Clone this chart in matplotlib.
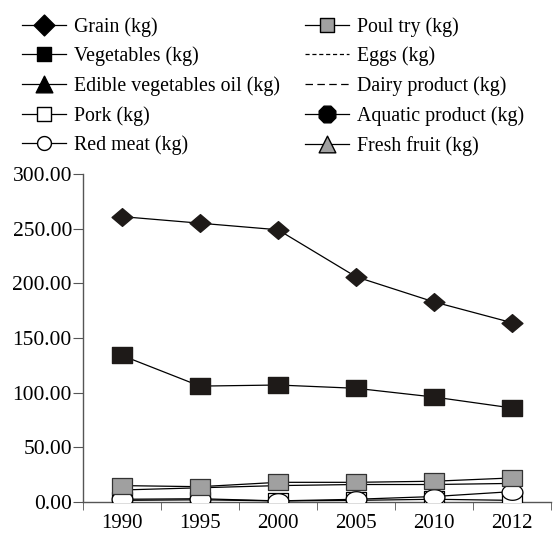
import numpy as np
import matplotlib
matplotlib.use("Agg")
import matplotlib.pyplot as plt
from matplotlib.path import Path
from matplotlib.lines import Line2D

plt.rcParams['font.family'] = ['Liberation Serif', 'DejaVu Serif']

years = ['1990', '1995', '2000', '2005', '2010', '2012']
grain = [261, 255, 249, 206, 183, 164]
vegetables = [134, 106, 107, 104, 96, 86]
edible_oil = [11, 13, 15, 16, 16, 17]
pork = [1.5, 2, 1, 1.5, 2.5, 1.5]
red_meat = [2.5, 3, 1, 2.5, 5, 9.5]
poultry = [15, 14, 18, 18, 19, 22]
y_ticks = [0, 50, 100, 150, 200, 250, 300]

# marker shapes (plot markers are a bit flattened, like the picture)
def shape(kind, sy=1.0):
    if kind == 'diamond':
        v = [(0, 1), (1, 0), (0, -1), (-1, 0), (0, 1)]
    elif kind == 'square':
        v = [(-1, -1), (1, -1), (1, 1), (-1, 1), (-1, -1)]
    elif kind == 'tri':
        v = [(0, 1), (1, -1), (-1, -1), (0, 1)]
    elif kind == 'circle':
        t = np.linspace(0, 2 * np.pi, 41)
        v = list(zip(np.cos(t), np.sin(t)))
    elif kind == 'hex':
        t = np.linspace(0, 2 * np.pi, 9) + np.pi / 8
        v = list(zip(np.cos(t), np.sin(t)))
    v = np.array(v, dtype=float)
    v[:, 1] *= sy
    return Path(v, closed=True)

sq = 0.75
fig = plt.figure(figsize=(5.57, 5.35), dpi=100)
ax = fig.add_axes([83 / 557, 1 - 502 / 535, 468 / 557, 328 / 535])

x = np.arange(len(years))
lw = 0.9
ax.plot(x, edible_oil, color='black', lw=lw, marker=shape('tri', sq), ms=6,
        mfc='black', mec='black', zorder=2)
ax.plot(x, grain, color='black', lw=lw, marker=shape('diamond', 0.85), ms=15,
        mfc='#1e1a18', mec='#1e1a18', zorder=3)
ax.plot(x, vegetables, color='black', lw=lw, marker=shape('square', sq), ms=15,
        mfc='#1e1a18', mec='#1e1a18', zorder=3)
ax.plot(x, pork, color='black', lw=lw, marker=shape('square', sq), ms=15,
        mfc='white', mec='black', mew=0.9, zorder=3)
ax.plot(x, red_meat, color='black', lw=lw, marker=shape('circle', sq), ms=15,
        mfc='white', mec='black', mew=0.9, zorder=4)
ax.plot(x, poultry, color='black', lw=lw, marker=shape('square', sq), ms=15,
        mfc='#a0a0a0', mec='#333333', mew=0.9, zorder=5)

ax.set_xlim(-0.5, len(years) - 0.5)
ax.set_ylim(0, 300)
ax.set_xticks(x)
ax.set_xticklabels(years)
ax.set_xticks(np.arange(len(years) + 1) - 0.5, minor=True)
ax.set_yticks(y_ticks)
ax.set_yticklabels(['%.2f' % v for v in y_ticks])
ax.tick_params(axis='x', which='major', length=0, pad=9, labelsize=15)
ax.tick_params(axis='x', which='minor', length=6, direction='out', color='#555555')
ax.tick_params(axis='y', length=7, direction='out', pad=1, labelsize=15.5, color='#555555')
for s in ['top', 'right']:
    ax.spines[s].set_visible(False)
for s in ['left', 'bottom']:
    ax.spines[s].set_color('#555555')
    ax.spines[s].set_linewidth(1.0)
ax.spines['left'].set_bounds(0, 300)

# legend
def h(marker=None, ms=10, fc='black', ls='-'):
    return Line2D([], [], color='black', lw=lw, ls=ls, marker=marker, ms=ms,
                  mfc=fc, mec='black')

handles = [
    h(shape('diamond'), 15),
    h(shape('square'), 10),
    h(shape('tri'), 12),
    h(shape('square'), 10, 'white'),
    h(shape('circle'), 10, 'white'),
    h(shape('square'), 10, '#a0a0a0'),
    h(None, ls=(0, (3.3, 2.2))),
    h(None, ls=(0, (6, 3.5))),
    h(shape('hex'), 12),
    h(shape('tri'), 12, '#a0a0a0'),
]
labels = ['Grain (kg)', 'Vegetables (kg)', 'Edible vegetables oil (kg)', 'Pork (kg)',
          'Red meat (kg)', 'Poul try (kg)', 'Eggs (kg)', 'Dairy product (kg)',
          'Aquatic product (kg)', 'Fresh fruit (kg)']
fig.legend(handles, labels, ncol=2, loc='upper left', bbox_to_anchor=(22 / 557, 1 - 17 / 535),
           frameon=False, fontsize=14.3, handlelength=2.2, handletextpad=0.4,
           columnspacing=1.3, labelspacing=0.5, borderpad=0, borderaxespad=0)

fig.savefig('out.png', dpi=100)
